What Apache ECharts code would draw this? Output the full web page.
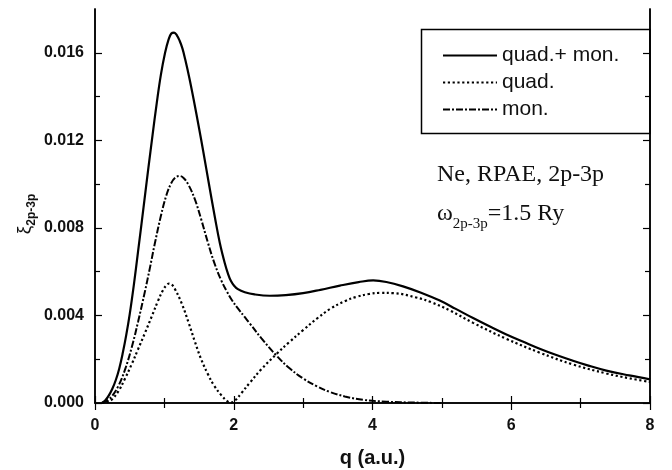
<!DOCTYPE html>
<html>
<head>
<meta charset="utf-8">
<script src="https://cdn.jsdelivr.net/npm/echarts@6/dist/echarts.min.js"></script>
<style>
  html, body { margin: 0; padding: 0; background: #fff; }
  #chart { width: 672px; height: 470px; }
</style>
</head>
<body>
<div id="chart"></div>
<script>
// Momentum-transfer grid (a.u.) and generalized oscillator strength curves
const qTotal = [0.10, 0.15, 0.20, 0.25, 0.30, 0.35, 0.40, 0.45, 0.50, 0.56, 0.62, 0.70, 0.77, 0.83, 0.89, 0.95, 1.01, 1.06, 1.10, 1.14, 1.18, 1.22, 1.26, 1.30, 1.36, 1.42, 1.50, 1.56, 1.64, 1.73, 1.80, 1.87, 1.92, 1.96, 2.00, 2.06, 2.16, 2.30, 2.52, 2.75, 3.00, 3.25, 3.53, 3.80, 4.01, 4.20, 4.44, 4.70, 4.97, 5.20, 5.45, 5.70, 5.93, 6.20, 6.41, 6.65, 6.89, 7.10, 7.37, 7.70, 8.00];
const total = [0.00000, 0.00013, 0.00035, 0.00065, 0.00105, 0.00158, 0.00228, 0.00310, 0.00405, 0.00540, 0.00690, 0.00895, 0.01075, 0.01225, 0.01370, 0.01500, 0.01600, 0.01660, 0.01688, 0.01692, 0.01680, 0.01655, 0.01620, 0.01570, 0.01485, 0.01390, 0.01255, 0.01150, 0.01005, 0.00845, 0.00730, 0.00640, 0.00588, 0.00557, 0.00538, 0.00520, 0.00506, 0.00496, 0.00490, 0.00493, 0.00502, 0.00517, 0.00536, 0.00552, 0.00560, 0.00553, 0.00533, 0.00504, 0.00468, 0.00430, 0.00388, 0.00348, 0.00313, 0.00276, 0.00248, 0.00219, 0.00193, 0.00172, 0.00148, 0.00126, 0.00108];

const qQuad = [0.10, 0.19, 0.25, 0.34, 0.43, 0.53, 0.62, 0.72, 0.82, 0.91, 0.98, 1.03, 1.07, 1.11, 1.15, 1.25, 1.35, 1.44, 1.53, 1.63, 1.72, 1.82, 1.90, 1.96, 2.02, 2.11, 2.23, 2.40, 2.62, 2.80, 3.00, 3.20, 3.39, 3.60, 3.77, 3.95, 4.11, 4.30, 4.63, 4.85, 5.12, 5.45, 5.93, 6.41, 6.89, 7.37, 7.70, 8.00];
const quad = [0.00000, 0.00006, 0.00018, 0.00055, 0.00110, 0.00178, 0.00245, 0.00320, 0.00397, 0.00468, 0.00515, 0.00538, 0.00546, 0.00540, 0.00522, 0.00455, 0.00366, 0.00280, 0.00200, 0.00130, 0.00078, 0.00036, 0.00010, 0.00002, 0.00012, 0.00045, 0.00092, 0.00155, 0.00225, 0.00278, 0.00333, 0.00386, 0.00430, 0.00465, 0.00485, 0.00498, 0.00503, 0.00502, 0.00482, 0.00460, 0.00422, 0.00366, 0.00293, 0.00230, 0.00176, 0.00135, 0.00113, 0.00096];

const qMon = [0.10, 0.14, 0.20, 0.25, 0.34, 0.43, 0.53, 0.62, 0.72, 0.79, 0.86, 0.95, 1.03, 1.10, 1.16, 1.22, 1.28, 1.35, 1.44, 1.53, 1.63, 1.72, 1.82, 1.90, 1.97, 2.06, 2.16, 2.23, 2.40, 2.62, 2.80, 3.00, 3.20, 3.39, 3.60, 3.87, 4.20, 4.60, 5.00];
const mon = [0.00000, 0.00005, 0.00017, 0.00033, 0.00080, 0.00150, 0.00255, 0.00370, 0.00510, 0.00615, 0.00725, 0.00855, 0.00950, 0.01005, 0.01030, 0.01037, 0.01027, 0.00995, 0.00930, 0.00840, 0.00730, 0.00640, 0.00560, 0.00510, 0.00472, 0.00432, 0.00392, 0.00364, 0.00295, 0.00215, 0.00160, 0.00112, 0.00076, 0.00050, 0.00030, 0.00014, 0.00006, 0.00002, 0.00000];

const seriesNames = ['quad.+ mon.', 'quad.', 'mon.'];
const yMajorTicks = [0, 0.004, 0.008, 0.012, 0.016];
const yMinorTicks = [0.002, 0.006, 0.010, 0.014];

const X_MIN = 0, X_MAX = 8, Y_MIN = 0, Y_MAX = 0.018;
const SANS = '"Liberation Sans", Arial, sans-serif';
const SERIF = '"Liberation Serif", "Times New Roman", serif';
const INK = '#000';

const zip = (xs, ys) => xs.map((x, i) => [x, ys[i]]);

const chart = echarts.init(document.getElementById('chart'), null, { renderer: 'canvas' });

const frameLine = { show: true, lineStyle: { color: INK, width: 1.5 } };

function xAxisDef(pos, labels) {
  return {
    type: 'value', position: pos, min: X_MIN, max: X_MAX, interval: 2,
    axisLine: frameLine,
    axisTick: { show: true, inside: true, length: 7, lineStyle: { color: INK, width: 1.2 } },
    minorTick: { show: true, splitNumber: 2, length: 5, lineStyle: { color: INK, width: 1.2 } },
    splitLine: { show: false }, minorSplitLine: { show: false },
    axisLabel: labels
      ? { show: true, margin: 15, fontFamily: SANS, fontSize: 16, fontWeight: 'bold', color: '#111', formatter: v => String(v) }
      : { show: false },
    name: labels ? 'q (a.u.)' : '',
    nameLocation: 'middle', nameGap: 45,
    nameTextStyle: { fontFamily: SANS, fontSize: 20, fontWeight: 'bold', color: '#111' }
  };
}

function yAxisDef(pos, ticks, len, labels) {
  return {
    type: 'value', position: pos, min: Y_MIN, max: Y_MAX,
    axisLine: frameLine,
    axisTick: { show: true, inside: true, length: len, customValues: ticks, lineStyle: { color: INK, width: 1.2 } },
    splitLine: { show: false },
    axisLabel: labels
      ? { show: true, customValues: ticks, margin: 11, fontFamily: SANS, fontSize: 16, fontWeight: 'bold', color: '#111', formatter: v => v.toFixed(3) }
      : { show: false }
  };
}

const lineSeries = (name, qs, vs, lineStyle, z) => ({
  name, type: 'line', data: zip(qs, vs),
  symbol: 'none', showSymbol: false, smooth: 0.4,
  itemStyle: { color: INK },
  lineStyle: Object.assign({ color: INK }, lineStyle), z
});

chart.setOption({
  animation: false,
  backgroundColor: '#fff',
  grid: { left: 95, right: 22, top: 9, bottom: 67, outerBoundsMode: 'none', containLabel: false },
  xAxis: [xAxisDef('bottom', true), xAxisDef('top', false)],
  yAxis: [
    yAxisDef('left', yMajorTicks, 7, true),
    yAxisDef('left', yMinorTicks, 5, false),
    yAxisDef('right', yMajorTicks, 7, false),
    yAxisDef('right', yMinorTicks, 5, false)
  ],
  legend: {
    orient: 'vertical', left: 442, top: 45, padding: 0,
    itemWidth: 54, itemHeight: 20, itemGap: 6,
    selectedMode: false,
    itemStyle: { opacity: 0 },
    textStyle: { fontFamily: SANS, fontSize: 21, color: '#111' },
    data: seriesNames
  },
  series: [
    lineSeries(seriesNames[0], qTotal, total, { width: 2.2, type: 'solid' }, 3),
    lineSeries(seriesNames[1], qQuad, quad, { width: 2.2, type: [2.2, 2.6] }, 2),
    lineSeries(seriesNames[2], qMon, mon, { width: 2, type: [7, 2, 2, 2] }, 2)
  ],
  graphic: [
    {
      type: 'rect', z: 1,
      shape: { x: 421.5, y: 29.5, width: 228.5, height: 104 },
      style: { fill: 'none', stroke: INK, lineWidth: 1.5 }
    },
    {
      type: 'text', x: 437, y: 175,
      style: { text: 'Ne, RPAE, 2p-3p', fontFamily: SERIF, fontSize: 24, fill: '#111', verticalAlign: 'middle', align: 'left' }
    },
    {
      type: 'text', x: 437, y: 214,
      style: {
        text: '{w|ω}{s|2p-3p}{w|=1.5 Ry}', verticalAlign: 'middle', align: 'left',
        rich: {
          w: { fontFamily: SERIF, fontSize: 24, lineHeight: 36, fill: '#111' },
          s: { fontFamily: SERIF, fontSize: 15, lineHeight: 15, verticalAlign: 'bottom', fill: '#111' }
        }
      }
    },
    {
      type: 'text', x: 25, y: 214, rotation: Math.PI / 2,
      style: {
        text: '{a|ξ}{b|2p-3p}', verticalAlign: 'middle', align: 'center',
        rich: {
          a: { fontFamily: SANS, fontSize: 19, lineHeight: 26, fill: '#111' },
          b: { fontFamily: SANS, fontSize: 12, lineHeight: 12, verticalAlign: 'bottom', fontWeight: 'bold', fill: '#111' }
        }
      }
    }
  ]
});
</script>
</body>
</html>
